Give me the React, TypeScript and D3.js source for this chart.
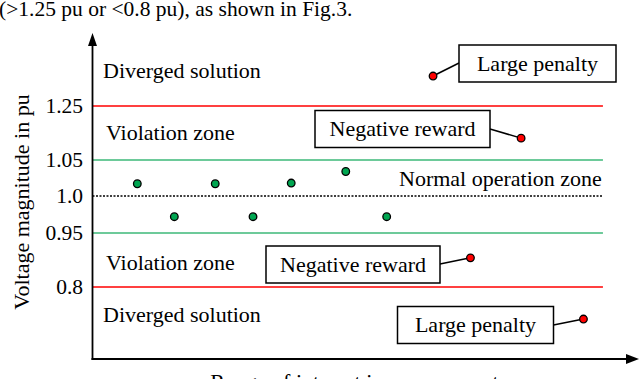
import React from "react";
import * as d3 from "d3";

// ---- data ----
const levelValues = [1.25, 1.05, 1.0, 0.95, 0.8];
const levelLabels = ["1.25", "1.05", "1.0", "0.95", "0.8"];
const levelKinds = ["limit", "normal", "nominal", "normal", "limit"];

const normalBus = [1.15, 2.1, 3.15, 4.12, 5.1, 6.5, 7.55];
const normalVolt = [1.017, 0.972, 1.017, 0.972, 1.018, 1.034, 0.972];

const abnormalBus = [8.74, 11.0, 9.7, 12.6];
const abnormalVolt = [1.361, 1.131, 0.881, 0.711];
const abnormalLabels = ["Large penalty", "Negative reward", "Negative reward", "Large penalty"];

const zoneLabels = ["Diverged solution", "Violation zone", "Normal operation zone", "Violation zone", "Diverged solution"];

// ---- layout ----
const W = 640;
const H = 379;
const FONT = "'Liberation Serif', 'Times New Roman', 'DejaVu Serif', serif";

// schematic (piecewise) voltage axis
const y = d3
  .scaleLinear()
  .domain([0.6, 0.8, 0.95, 1.0, 1.05, 1.25, 1.45])
  .range([359, 287, 233, 196, 160, 106, 52]);
const x = d3.scaleLinear().domain([0, 14]).range([92.5, 638]);
const lineEnd = 13.1;

const zonePos = [
  { x: 103, y: 78 },
  { x: 106, y: 140 },
  { x: 399, y: 186 },
  { x: 106, y: 270 },
  { x: 103, y: 322 },
];
const boxes = [
  { x: 459, y: 45, w: 157, h: 37, ax: 459, ay: 63 },
  { x: 315, y: 110.5, w: 175, h: 37, ax: 490, ay: 129 },
  { x: 266, y: 246, w: 174, h: 37, ax: 440, ay: 264 },
  { x: 397.5, y: 306.5, w: 156, h: 37, ax: 553.5, ay: 325 },
];

const colors: Record<string, string> = {
  limit: "#ff0000",
  normal: "#3cb878",
  nominal: "#000000",
};

export default function App() {
  const x0 = x(0);
  const yBottom = y(0.6);
  return (
    <svg
      width={W}
      height={H}
      style={{ position: "absolute", left: 0, top: 0, background: "#fff", fontFamily: FONT }}
    >
      <text x={-1} y={16} fontSize={21.5} fill="#000">
        (&gt;1.25 pu or &lt;0.8 pu), as shown in Fig.3.
      </text>

      {/* threshold lines */}
      {levelValues.map((v, i) => (
        <line
          key={"l" + i}
          x1={x0}
          x2={x(lineEnd)}
          y1={y(v)}
          y2={y(v)}
          stroke={colors[levelKinds[i]]}
          strokeWidth={levelKinds[i] === "nominal" ? 1.3 : 1.6}
          strokeDasharray={levelKinds[i] === "nominal" ? "2,1.5" : undefined}
        />
      ))}

      {/* tick labels */}
      {levelValues.map((v, i) => (
        <text key={"t" + i} x={83} y={y(v) + 7} fontSize={21.5} textAnchor="end" fill="#000">
          {levelLabels[i]}
        </text>
      ))}

      {/* axes */}
      <line x1={x0} x2={x0} y1={yBottom + 1} y2={44} stroke="#000" strokeWidth={1.8} />
      <path d={`M${x0 - 4.5},${46} L${x0},${33} L${x0 + 4.5},${46} Z`} fill="#000" />
      <line x1={x0 - 1} x2={628} y1={yBottom} y2={yBottom} stroke="#000" strokeWidth={1.8} />
      <path d={`M${626},${yBottom - 5} L${639},${yBottom} L${626},${yBottom + 5} Z`} fill="#000" />

      {/* zone labels */}
      {zoneLabels.map((t, i) => (
        <text key={"z" + i} x={zonePos[i].x} y={zonePos[i].y} fontSize={22} fill="#000">
          {t}
        </text>
      ))}

      {/* annotation boxes */}
      {abnormalLabels.map((t, i) => {
        const b = boxes[i];
        return (
          <g key={"b" + i}>
            <line x1={b.ax} y1={b.ay} x2={x(abnormalBus[i])} y2={y(abnormalVolt[i])} stroke="#000" strokeWidth={1.5} />
            <rect x={b.x} y={b.y} width={b.w} height={b.h} fill="#fff" stroke="#000" strokeWidth={1.5} />
            <text x={b.x + b.w / 2} y={b.y + b.h / 2 + 7} fontSize={22} textAnchor="middle" fill="#000">
              {t}
            </text>
          </g>
        );
      })}

      {/* points */}
      {normalBus.map((b, i) => (
        <circle key={"n" + i} cx={x(b)} cy={y(normalVolt[i])} r={3.8} fill="#00a651" stroke="#000" strokeWidth={1.3} />
      ))}
      {abnormalBus.map((b, i) => (
        <circle key={"a" + i} cx={x(b)} cy={y(abnormalVolt[i])} r={3.8} fill="#ff0000" stroke="#000" strokeWidth={1.3} />
      ))}

      {/* axis titles */}
      <text transform={`translate(29,202) rotate(-90)`} fontSize={22} textAnchor="middle" fill="#000">
        Voltage magnitude in pu
      </text>
      <text x={368} y={389} fontSize={22} textAnchor="middle" fill="#000">
        Range of interest in a power system
      </text>
    </svg>
  );
}
